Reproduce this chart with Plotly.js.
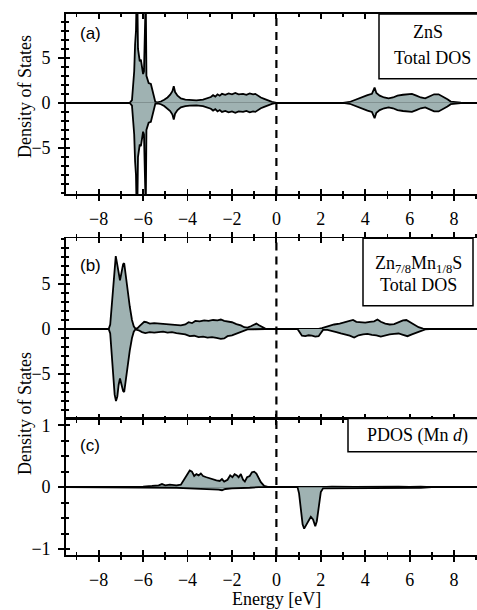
<!DOCTYPE html>
<html>
<head>
<meta charset="utf-8">
<script src="https://cdn.plot.ly/plotly-3.0.1.min.js"></script>
<style>html,body{margin:0;padding:0;background:#fff;overflow:hidden}#chart{width:477px;height:610px}</style>
</head>
<body>
<div id="chart"></div>
<script>
// ---------- data (energy in eV, DOS values) ----------
// Panel (a) ZnS total DOS
const znsE = [-9.5,-6.6,-6.5,-6.45,-6.4,-6.36,-6.32,-6.29,-6.26,-6.23,-6.2,-6.15,-6.1,-6.05,-6.0,-5.96,-5.93,-5.88,-5.85,-5.8,-5.75,-5.65,-5.6,-5.55,-5.5,-5.45,-5.35,-5.2,-5.05,-4.9,-4.78,-4.68,-4.62,-4.56,-4.45,-4.3,-4.1,-3.9,-3.6,-3.3,-3.1,-2.95,-2.85,-2.75,-2.65,-2.55,-2.45,-2.3,-2.15,-2.0,-1.85,-1.7,-1.5,-1.35,-1.2,-1.05,-0.95,-0.85,-0.7,-0.55,-0.4,-0.2,0,3.0,3.3,3.6,3.9,4.1,4.3,4.42,4.5,4.65,4.85,5.05,5.25,5.45,5.7,5.9,6.1,6.3,6.5,6.7,6.9,7.1,7.3,7.5,7.7,7.85,8.0,8.3,8.5,9.1];
const znsUp = [0,0,0.3,1.5,3.5,6.5,8,12,12,6,5.2,4.6,4.8,4.0,3.2,3.5,12,12,3.0,2.4,2.2,2.1,1.6,0.8,0.3,0.1,0.05,0.15,0.35,0.6,0.9,1.3,1.85,1.2,0.8,0.5,0.35,0.3,0.28,0.35,0.5,0.65,0.85,0.7,0.95,0.8,1.0,0.9,1.05,0.95,1.1,0.95,1.0,0.9,1.05,0.95,1.0,0.8,0.6,0.45,0.3,0.12,0,0,0.1,0.4,0.7,0.85,1.0,1.7,1.1,0.8,0.6,0.5,0.6,0.8,0.9,0.95,1.0,0.8,0.6,0.5,0.75,0.95,0.95,0.7,0.4,0.15,0.08,0.02,0,0];
const znsDown = [0,0,-0.3,-1.5,-3.5,-6.5,-8,-12,-12,-6,-5.2,-4.6,-4.8,-4.0,-3.2,-3.5,-12,-12,-3.0,-2.4,-2.2,-2.1,-1.6,-0.8,-0.3,-0.1,-0.05,-0.15,-0.35,-0.6,-0.9,-1.3,-1.85,-1.2,-0.8,-0.5,-0.35,-0.3,-0.28,-0.35,-0.5,-0.65,-0.85,-0.7,-0.95,-0.8,-1.0,-0.9,-1.05,-0.95,-1.1,-0.95,-1.0,-0.9,-1.05,-0.95,-1.0,-0.8,-0.6,-0.45,-0.3,-0.12,0,0,-0.1,-0.4,-0.7,-0.85,-1.0,-1.7,-1.1,-0.8,-0.6,-0.5,-0.6,-0.8,-0.9,-0.95,-1.0,-0.8,-0.6,-0.5,-0.75,-0.95,-0.95,-0.7,-0.4,-0.15,-0.08,-0.02,0,0];

// Panel (b) Zn7/8Mn1/8S total DOS
const mnUpE = [-9.5,-7.55,-7.48,-7.42,-7.35,-7.28,-7.23,-7.18,-7.1,-7.04,-6.97,-6.9,-6.85,-6.8,-6.7,-6.6,-6.5,-6.42,-6.35,-6.25,-6.15,-6.05,-5.95,-5.85,-5.7,-5.5,-5.3,-5.1,-4.9,-4.7,-4.5,-4.3,-4.1,-3.95,-3.8,-3.65,-3.45,-3.25,-3.05,-2.85,-2.65,-2.5,-2.35,-2.2,-2.0,-1.8,-1.6,-1.45,-1.3,-1.15,-1.0,-0.9,-0.8,-0.65,-0.5,-0.3,1.9,2.05,2.3,2.6,2.85,3.1,3.3,3.45,3.6,3.8,4.0,4.2,4.4,4.55,4.7,4.9,5.1,5.3,5.5,5.7,5.85,6.0,6.2,6.4,6.6,6.8,9.1];
const mnUp = [0,0,0.5,2.5,5.0,7.3,8.1,7.4,6.0,5.4,6.3,7.2,7.3,6.2,4.2,2.5,1.0,0.3,0.05,0.1,0.35,0.6,0.8,0.75,0.6,0.65,0.6,0.55,0.5,0.45,0.4,0.4,0.5,0.75,0.65,0.9,0.85,0.95,0.9,1.0,0.95,1.05,0.9,0.85,0.75,0.55,0.4,0.2,0.15,0.3,0.5,0.6,0.45,0.2,0.05,0,0,0.1,0.3,0.5,0.6,0.75,0.85,1.0,0.8,0.75,0.7,0.8,0.85,1.05,0.8,0.6,0.5,0.55,0.75,0.95,1.0,0.8,0.5,0.2,0.05,0,0];
const mnDownE = [-9.5,-7.55,-7.48,-7.42,-7.35,-7.28,-7.22,-7.16,-7.1,-7.04,-6.97,-6.9,-6.85,-6.8,-6.7,-6.6,-6.5,-6.42,-6.35,-6.2,-6.05,-5.9,-5.7,-5.5,-5.3,-5.1,-4.9,-4.7,-4.5,-4.3,-4.1,-3.9,-3.7,-3.5,-3.3,-3.1,-2.9,-2.7,-2.5,-2.35,-2.2,-2.0,-1.8,-1.6,-1.45,-1.3,-1.0,-0.5,0.95,1.05,1.15,1.3,1.45,1.6,1.75,1.9,2.0,2.1,2.3,2.5,2.7,2.9,3.1,3.3,3.5,3.7,3.9,4.1,4.3,4.5,4.7,4.9,5.1,5.3,5.5,5.7,5.9,6.1,6.3,6.5,6.7,6.9,9.1];
const mnDown = [0,0,-0.5,-2.5,-5.0,-7.3,-8.0,-7.5,-6.2,-5.5,-6.2,-6.9,-7.0,-6.0,-4.0,-2.4,-1.0,-0.3,-0.05,-0.15,-0.35,-0.45,-0.35,-0.4,-0.35,-0.3,-0.4,-0.35,-0.45,-0.5,-0.6,-0.8,-0.75,-0.9,-0.85,-0.95,-0.9,-1.0,-1.1,-1.05,-0.8,-0.7,-0.5,-0.3,-0.15,-0.05,-0.03,0,0,-0.4,-0.75,-0.8,-0.7,-0.75,-0.85,-0.8,-0.4,-0.1,-0.1,-0.2,-0.35,-0.5,-0.6,-0.75,-0.95,-0.7,-0.6,-0.55,-0.65,-0.7,-0.85,-0.7,-0.6,-0.55,-0.5,-0.65,-0.8,-0.6,-0.4,-0.2,-0.05,0,0];

// Panel (c) PDOS (Mn d)
const pdUpE = [-9.5,-7.5,-7.3,-7.0,-6.8,-6.3,-6.0,-5.6,-5.3,-5.15,-5.0,-4.8,-4.5,-4.3,-4.2,-4.05,-3.9,-3.8,-3.7,-3.6,-3.5,-3.4,-3.3,-3.15,-3.0,-2.85,-2.7,-2.55,-2.45,-2.35,-2.2,-2.08,-1.98,-1.88,-1.78,-1.7,-1.6,-1.5,-1.42,-1.32,-1.2,-1.1,-1.0,-0.9,-0.8,-0.7,-0.55,-0.35,2.0,2.5,3.5,4.5,5.5,6.0,6.5,7.0,9.1];
const pdUp = [0,0,0.01,0.01,0.005,0,0.01,0.02,0.03,0.05,0.03,0.04,0.03,0.04,0.1,0.2,0.27,0.25,0.18,0.21,0.19,0.22,0.18,0.16,0.14,0.13,0.11,0.1,0.13,0.09,0.12,0.19,0.16,0.21,0.19,0.16,0.21,0.12,0.09,0.16,0.18,0.24,0.25,0.22,0.15,0.08,0.02,0,0,0.01,0.005,0.01,0.01,0.005,0.01,0,0];
const pdDownE = [-9.5,-5.5,-5.2,-4.5,-4.2,-3.8,-3.3,-2.9,-2.6,-2.45,-2.3,-2.0,-1.5,-1.2,-0.8,0.95,1.02,1.1,1.18,1.25,1.35,1.45,1.55,1.65,1.75,1.82,1.9,2.0,2.1,2.5,3.0,3.5,4.0,4.5,5.0,5.5,6.0,6.5,7.0,9.1];
const pdDown = [0,0,-0.01,-0.01,-0.015,-0.02,-0.02,-0.03,-0.04,-0.05,-0.03,-0.02,-0.02,-0.01,0,0,-0.1,-0.4,-0.6,-0.67,-0.6,-0.55,-0.48,-0.52,-0.63,-0.55,-0.3,-0.08,-0.02,-0.02,-0.015,-0.02,-0.015,-0.01,-0.015,-0.01,-0.015,-0.01,0,0];

// tick values and labels
const xTickVals = [-8,-6,-4,-2,0,2,4,6,8];
const xMinorVals = [-9,-7,-5,-3,-1,1,3,5,7,9];
const yTickValsAB = [-5,0,5];
const yMinorValsAB = [-10,-9,-8,-7,-6,-4,-3,-2,-1,1,2,3,4,6,7,8,9,10];
const yTickValsC = [-1,0,1];
const yMinorValsC = [-0.75,-0.5,-0.25,0.25,0.5,0.75];
const panelLabels = ['(a)','(b)','(c)'];
const boxTexts = ['ZnS','Total DOS','Zn<sub>7/8</sub>Mn<sub>1/8</sub>S','Total DOS','PDOS (Mn <i>d</i>)'];
const yTitle = 'Density of States';
const xTitle = 'Energy [eV]';

// ---------- styling / layout helpers ----------
const FILL = '#9fb2b2';
const SERIF = 'Liberation Serif, serif';
const SANS = 'Liberation Sans, sans-serif';
const W = 477, H = 610, ML = 66, MR = 0, MT = 14, MB = 55;
const PW = W - ML - MR, PH = H - MT - MB;
const fx = px => (px - ML) / PW;
const fy = py => (H - MB - py) / PH;
const XR = [-9.47, 9.03];
const LW = 1.8;

function dos(x, y, xa, ya) {
  return {x: x, y: y, xaxis: xa, yaxis: ya, type: 'scatter', mode: 'lines',
    fill: 'tozeroy', fillcolor: FILL, line: {color: '#000', width: 1.8},
    showlegend: false, hoverinfo: 'skip'};
}
function dummy(xa, ya) {
  return {x: [], y: [], xaxis: xa, yaxis: ya, type: 'scatter', mode: 'lines', showlegend: false, hoverinfo: 'skip'};
}

const data = [
  dos(znsE, znsUp, 'x', 'y'), dos(znsE, znsDown, 'x', 'y'),
  dos(mnUpE, mnUp, 'x2', 'y2'), dos(mnDownE, mnDown, 'x2', 'y2'),
  dos(pdUpE, pdUp, 'x3', 'y3'), dos(pdDownE, pdDown, 'x3', 'y3'),
  dummy('x4', 'y'), dummy('x5', 'y2'), dummy('x6', 'y3'), dummy('x7', 'y2'),
  dummy('x', 'y4'), dummy('x2', 'y5'), dummy('x3', 'y6')
];

const tickFont = {family: SERIF, size: 18, color: '#000'};
function minorOf(vals, ticks, len) {
  return {tickmode: 'array', tickvals: vals, ticks: ticks, ticklen: len, tickwidth: LW, tickcolor: '#000', showgrid: false};
}
function xMain(anchor, labels) {
  return {anchor: anchor, range: XR, showline: true, linecolor: '#000', linewidth: LW,
    tickmode: 'array', tickvals: xTickVals, ticks: 'outside', ticklen: 5, tickwidth: LW, tickcolor: '#000',
    minor: minorOf(xMinorVals, 'outside', 3),
    showticklabels: labels, tickfont: tickFont, showgrid: false, zeroline: false, ticklabelstandoff: 3, fixedrange: true};
}
function xOver(over, anchor, side, ticks, mirror) {
  return {overlaying: over, anchor: anchor, side: side, range: XR, showline: true, linecolor: '#000', linewidth: LW,
    tickmode: 'array', tickvals: xTickVals, ticks: ticks, ticklen: 5, tickwidth: LW, tickcolor: '#000',
    minor: minorOf(xMinorVals, ticks, 3),
    mirror: mirror, showticklabels: false, showgrid: false, zeroline: false, fixedrange: true};
}
function yMain(anchor, domain, range, vals, mvals) {
  return {anchor: anchor, domain: domain, range: range, showline: true, linecolor: '#000', linewidth: LW,
    tickmode: 'array', tickvals: vals, ticks: 'outside', ticklen: 6, tickwidth: LW, tickcolor: '#000',
    minor: minorOf(mvals, 'outside', 3),
    tickfont: tickFont, showgrid: false, zeroline: true, zerolinecolor: '#000', zerolinewidth: 1.6,
    ticklabelstandoff: 4, fixedrange: true};
}
function yOver(over, anchor, range, vals, mvals) {
  return {overlaying: over, anchor: anchor, side: 'left', range: range, showline: false,
    tickmode: 'array', tickvals: vals, ticks: 'inside', ticklen: 4, tickwidth: LW, tickcolor: '#000',
    minor: minorOf(mvals, 'inside', 3),
    showticklabels: false, showgrid: false, zeroline: false, fixedrange: true};
}

const dA = [fy(194), 1], dB = [fy(418.5), fy(238.3)], dC = [0, fy(418.5)];
const rA = [-10.1, 9.85], rB = [-9.95, 10.08], rC = [-1.095, 1.108];

function ann(text, px, py, font, extra) {
  return Object.assign({text: text, xref: 'paper', yref: 'paper', x: fx(px), y: fy(py),
    xanchor: 'center', yanchor: 'middle', showarrow: false, font: font}, extra || {});
}
const serifFont = {family: SERIF, size: 18, color: '#000'};
const sansFont = {family: SANS, size: 17, color: '#000'};
const dashLine = {color: '#000', width: 2.2, dash: '8px,6px'};

const layout = {
  width: W, height: H, margin: {l: ML, r: MR, t: MT, b: MB, pad: 0},
  paper_bgcolor: '#fff', plot_bgcolor: 'rgba(0,0,0,0)', showlegend: false,
  font: {family: SERIF, size: 18, color: '#000'},
  xaxis: xMain('y', true), xaxis2: xMain('y2', false), xaxis3: xMain('y3', true),
  xaxis4: xOver('x', 'y', 'bottom', 'inside', 'ticks'),
  xaxis5: xOver('x2', 'y2', 'bottom', 'inside', 'ticks'),
  xaxis6: xOver('x3', 'y3', 'bottom', 'inside', 'ticks'),
  xaxis7: xOver('x2', 'y2', 'top', 'outside', false),
  yaxis: yMain('x', dA, rA, yTickValsAB, yMinorValsAB),
  yaxis2: yMain('x2', dB, rB, yTickValsAB, yMinorValsAB),
  yaxis3: yMain('x3', dC, rC, yTickValsC, yMinorValsC),
  yaxis4: yOver('y', 'x', rA, yTickValsAB, yMinorValsAB),
  yaxis5: yOver('y2', 'x2', rB, yTickValsAB, yMinorValsAB),
  yaxis6: yOver('y3', 'x3', rC, yTickValsC, yMinorValsC),
  shapes: [
    {type: 'line', xref: 'x', yref: 'y domain', x0: 0, x1: 0, y0: 0, y1: 1, line: dashLine},
    {type: 'line', xref: 'x2', yref: 'y2 domain', x0: 0, x1: 0, y0: 0, y1: 1, line: dashLine},
    {type: 'line', xref: 'x3', yref: 'y3 domain', x0: 0, x1: 0, y0: 0, y1: 1, line: dashLine},
    {type: 'rect', xref: 'paper', yref: 'paper', x0: fx(379), x1: 1.05, y0: fy(78.7), y1: fy(14), line: {color: '#000', width: 1.5}, fillcolor: '#fff'},
    {type: 'rect', xref: 'paper', yref: 'paper', x0: fx(363), x1: fx(473), y0: fy(305.7), y1: fy(238.3), line: {color: '#000', width: 1.5}, fillcolor: '#fff'},
    {type: 'rect', xref: 'paper', yref: 'paper', x0: fx(348), x1: 1.05, y0: fy(451.7), y1: fy(418.5), line: {color: '#000', width: 1.5}, fillcolor: '#fff'}
  ],
  annotations: [
    ann(panelLabels[0], 90, 33, sansFont),
    ann(panelLabels[1], 90, 265, sansFont),
    ann(panelLabels[2], 90, 445, sansFont),
    ann(boxTexts[0], 428, 32, serifFont),
    ann(boxTexts[1], 432, 58, serifFont),
    ann(boxTexts[2], 418, 264, serifFont),
    ann(boxTexts[3], 418, 285, serifFont),
    ann(boxTexts[4], 417, 435, serifFont),
    ann(yTitle, 25, 97, serifFont, {textangle: -90}),
    ann(yTitle, 25, 414, serifFont, {textangle: -90}),
    ann(xTitle, 276, 599, serifFont)
  ]
};

Plotly.newPlot('chart', data, layout, {staticPlot: true, displayModeBar: false});
</script>
</body>
</html>
